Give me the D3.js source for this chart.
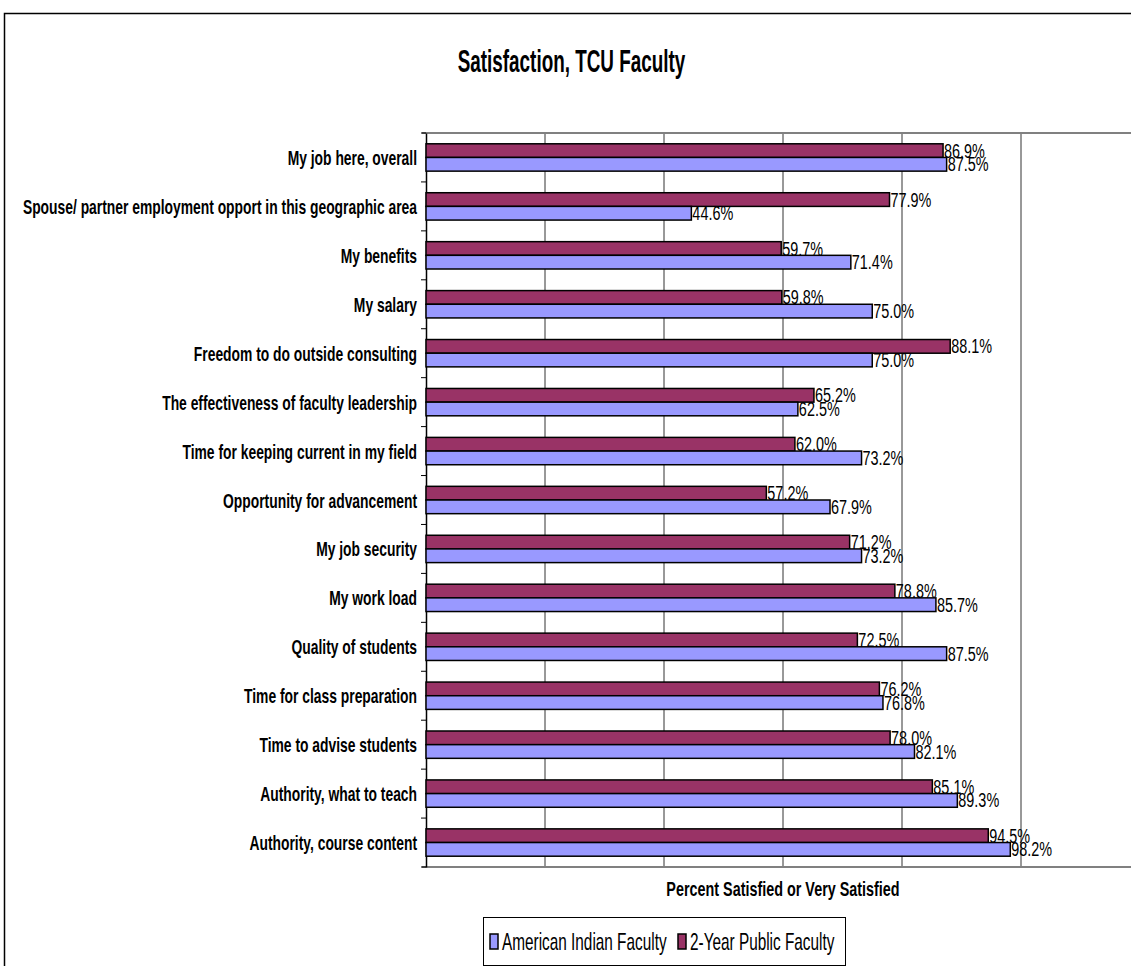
<!DOCTYPE html>
<html>
<head>
  <title>Satisfaction, TCU Faculty</title>
  <script src="https://d3js.org/d3.v7.min.js"></script>
  <style>
    body { margin: 0; background: #fff; }
    text { font-family: "Liberation Sans", Arial, sans-serif; }
  </style>
</head>
<body>
  <svg id="chart"></svg>

  <script>
    // data
    const categories = [
      "My job here, overall",
      "Spouse/ partner employment opport in this geographic area",
      "My benefits",
      "My salary",
      "Freedom to do outside consulting",
      "The effectiveness of faculty leadership",
      "Time for keeping current in my field",
      "Opportunity for advancement",
      "My job security",
      "My work load",
      "Quality of students",
      "Time for class preparation",
      "Time to advise students",
      "Authority, what to teach",
      "Authority, course content"
    ];
    const americanIndian = [87.5, 44.6, 71.4, 75.0, 75.0, 62.5, 73.2, 67.9, 73.2, 85.7, 87.5, 76.8, 82.1, 89.3, 98.2];
    const twoYearPublic  = [86.9, 77.9, 59.7, 59.8, 88.1, 65.2, 62.0, 57.2, 71.2, 78.8, 72.5, 76.2, 78.0, 85.1, 94.5];
    const seriesNames = ["American Indian Faculty", "2-Year Public Faculty"];
    const xTicks = [0, 20, 40, 60, 80, 100, 120];

    const width = 1131, height = 966;
    const plot = { left: 426, top: 133, right: 1140, bottom: 867 };
    const blue = "#9999ff", maroon = "#993366";

    // no narrow font installed, so squeeze text horizontally
    function squeeze(sel, s, x) {
      sel.attr("x", x / s).attr("transform", `scale(${s},1)`);
    }

    const svg = d3.select("#chart").attr("width", width).attr("height", height);

    // outer chart border
    svg.append("rect")
      .attr("x", 4.5).attr("y", 13.5)
      .attr("width", width + 10).attr("height", height + 10)
      .attr("fill", "none").attr("stroke", "#000").attr("stroke-width", 1.5);

    svg.append("text")
      .attr("y", 72)
      .attr("text-anchor", "middle")
      .style("font-size", "32px").style("font-weight", "bold")
      .text("Satisfaction, TCU Faculty")
      .call(squeeze, 0.59, 571.5);

    const x = d3.scaleLinear().domain([0, 120]).range([plot.left, plot.right]);
    const y = d3.scaleBand().domain(categories).range([plot.top, plot.bottom]);
    const inner = d3.scaleBand().domain(["two", "ai"]).range([0, y.bandwidth()]).paddingOuter(0.79).paddingInner(0);

    // gridlines
    svg.append("g").selectAll("line")
      .data(xTicks.slice(1))
      .join("line")
      .attr("x1", d => x(d)).attr("x2", d => x(d))
      .attr("y1", plot.top).attr("y2", plot.bottom)
      .attr("stroke", "#333").attr("stroke-width", 1);

    // plot frame top / bottom
    [plot.top, plot.bottom].forEach(yy => {
      svg.append("line")
        .attr("x1", plot.left - 4).attr("x2", width)
        .attr("y1", yy).attr("y2", yy)
        .attr("stroke", "#808080").attr("stroke-width", 2);
    });

    // category axis
    const yAxis = svg.append("g")
      .attr("transform", `translate(${plot.left},0)`)
      .call(d3.axisLeft(y).tickSize(0).tickPadding(9));
    yAxis.select(".domain").attr("stroke", "#000").attr("stroke-width", 1.5);
    yAxis.selectAll("text")
      .style("font-size", "21px").style("font-weight", "bold")
      .style("font-family", "'Liberation Sans', Arial, sans-serif")
      .attr("fill", "#000")
      .attr("dy", "0.36em")
      .call(squeeze, 0.66, -9);

    // ticks between categories
    svg.append("g").selectAll("line")
      .data(d3.range(categories.length + 1))
      .join("line")
      .attr("x1", plot.left - 5).attr("x2", plot.left)
      .attr("y1", i => plot.top + i * y.step())
      .attr("y2", i => plot.top + i * y.step())
      .attr("stroke", "#000");

    const rows = categories.map((c, i) => ({ c, ai: americanIndian[i], two: twoYearPublic[i] }));

    const groups = svg.append("g").selectAll("g")
      .data(rows)
      .join("g")
      .attr("transform", d => `translate(0,${y(d.c)})`);

    groups.append("rect")
      .attr("x", x(0)).attr("y", inner("two"))
      .attr("width", d => x(d.two) - x(0)).attr("height", inner.bandwidth())
      .attr("fill", maroon).attr("stroke", "#000").attr("stroke-width", 1.5);

    groups.append("rect")
      .attr("x", x(0)).attr("y", inner("ai"))
      .attr("width", d => x(d.ai) - x(0)).attr("height", inner.bandwidth())
      .attr("fill", blue).attr("stroke", "#000").attr("stroke-width", 1.5);

    groups.append("text")
      .attr("y", inner("two") + inner.bandwidth() / 2)
      .attr("dy", "0.36em")
      .style("font-size", "19.5px")
      .text(d => d.two.toFixed(1) + "%")
      .each(function(d) { d3.select(this).call(squeeze, 0.74, x(d.two) + 1); });

    groups.append("text")
      .attr("y", inner("ai") + inner.bandwidth() / 2)
      .attr("dy", "0.36em")
      .style("font-size", "19.5px")
      .text(d => d.ai.toFixed(1) + "%")
      .each(function(d) { d3.select(this).call(squeeze, 0.74, x(d.ai) + 1); });

    // axis title
    svg.append("text")
      .attr("y", 896)
      .attr("text-anchor", "middle")
      .style("font-size", "21px").style("font-weight", "bold")
      .text("Percent Satisfied or Very Satisfied")
      .call(squeeze, 0.685, 783);

    // legend
    const legend = svg.append("g");
    legend.append("rect")
      .attr("x", 483.5).attr("y", 917.5).attr("width", 362).attr("height", 48)
      .attr("fill", "#fff").attr("stroke", "#000");
    const items = [
      { name: seriesNames[0], color: blue, x: 490 },
      { name: seriesNames[1], color: maroon, x: 678 }
    ];
    items.forEach(it => {
      legend.append("rect")
        .attr("x", it.x).attr("y", 934).attr("width", 8).attr("height", 15)
        .attr("fill", it.color).attr("stroke", "#000").attr("stroke-width", 1.5);
      legend.append("text")
        .attr("y", 950)
        .style("font-size", "24px")
        .text(it.name)
        .call(squeeze, 0.64, it.x + 12);
    });
  </script>
</body>
</html>
